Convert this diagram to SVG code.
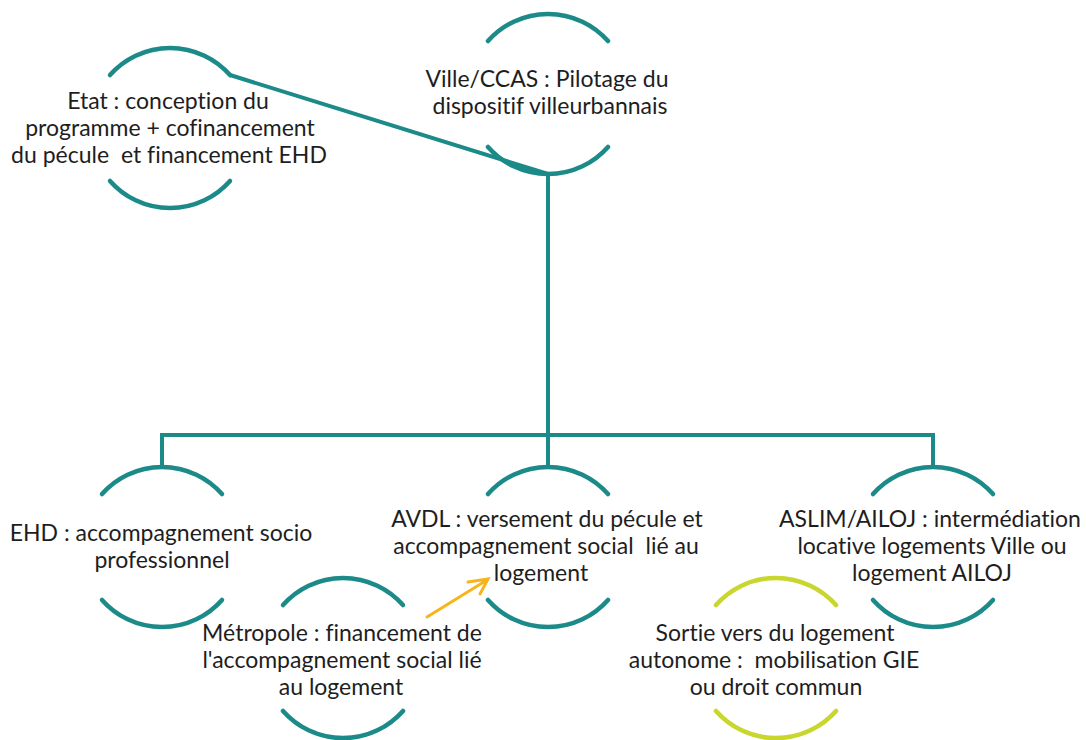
<svg xmlns="http://www.w3.org/2000/svg" width="1086" height="740" viewBox="0 0 1086 740">
<style>
.arc{fill:none;stroke:#1b8a89;stroke-width:4.5;stroke-linecap:round}
.lime{stroke:#c8d62e}
.con{fill:none;stroke:#1b8a89;stroke-width:4;stroke-linejoin:miter}
.arrow{fill:none;stroke:#f7b51c;stroke-width:3;stroke-linecap:round}
text{font-family:Lato,"Liberation Sans",sans-serif;font-size:23px;fill:#1e1e1e;text-anchor:middle;white-space:pre;font-variant-ligatures:none}
</style>
<rect width="1086" height="740" fill="#ffffff"/>
<g id="connectors">
<path class="con" d="M230,75 L548,174"/>
<path class="con" d="M548,174 V467"/>
<path class="con" d="M162,467 V435 H933 V467"/>
<path class="arrow" d="M427,617 L487,580 M468,582 L488,579 L480,594"/>
</g>
<g id="node-etat">
<path class="arc" d="M110,75 A80,80 0 0 1 230,75"/>
<path class="arc" d="M110,181 A80,80 0 0 0 230,181"/>
<text x="168" y="109">Etat : conception du</text>
<text x="170" y="136">programme + cofinancement</text>
<text x="169" y="163">du pécule  et financement EHD</text>
</g>
<g id="node-ville">
<path class="arc" d="M488,41 A80,80 0 0 1 608,41"/>
<path class="arc" d="M488,147 A80,80 0 0 0 608,147"/>
<text x="547" y="87">Ville/CCAS : Pilotage du</text>
<text x="550" y="114">dispositif villeurbannais</text>
</g>
<g id="node-ehd">
<path class="arc" d="M102,494 A80,80 0 0 1 222,494"/>
<path class="arc" d="M102,600 A80,80 0 0 0 222,600"/>
<text x="161" y="541">EHD : accompagnement socio</text>
<text x="162" y="568">professionnel</text>
</g>
<g id="node-avdl">
<path class="arc" d="M488,494 A80,80 0 0 1 608,494"/>
<path class="arc" d="M488,600 A80,80 0 0 0 608,600"/>
<text x="547" y="527">AVDL : versement du pécule et</text>
<text x="546" y="554">accompagnement social  lié au</text>
<text x="541" y="581">logement</text>
</g>
<g id="node-aslim">
<path class="arc" d="M873,494 A80,80 0 0 1 993,494"/>
<path class="arc" d="M873,600 A80,80 0 0 0 993,600"/>
<text x="930" y="527">ASLIM/AILOJ : intermédiation</text>
<text x="932" y="554">locative logements Ville ou</text>
<text x="932" y="581">logement AILOJ</text>
</g>
<g id="node-metropole">
<path class="arc" d="M283,605 A80,80 0 0 1 403,605"/>
<path class="arc" d="M283,711 A80,80 0 0 0 403,711"/>
<text x="342" y="641">Métropole : financement de</text>
<text x="342" y="668">l'accompagnement social lié</text>
<text x="341" y="695">au logement</text>
</g>
<g id="node-sortie">
<path class="arc lime" d="M716,605 A80,80 0 0 1 836,605"/>
<path class="arc lime" d="M716,711 A80,80 0 0 0 836,711"/>
<text x="775" y="641">Sortie vers du logement</text>
<text x="774" y="668">autonome :  mobilisation GIE</text>
<text x="776" y="695">ou droit commun</text>
</g>
</svg>
